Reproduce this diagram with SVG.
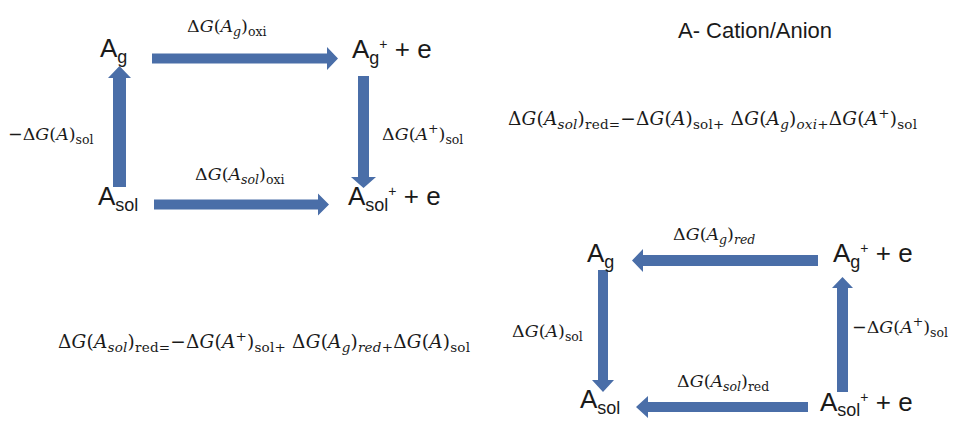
<svg xmlns="http://www.w3.org/2000/svg" width="956" height="421" viewBox="0 0 956 421">
<style>
.n{font-family:"Liberation Sans",Arial,sans-serif;font-size:26px;fill:#1a1a1a}
.ns{font-size:18px}
.np{font-size:14px}
.t{font-family:"Liberation Sans",Arial,sans-serif;font-size:22px;fill:#1a1a1a}
.m{font-family:"DejaVu Serif",serif;font-size:17.5px;fill:#1a1a1a}
.f{font-family:"DejaVu Serif",serif;font-size:18.5px;fill:#1a1a1a}
.i{font-style:italic}
.s{font-size:12.5px}
.fs{font-size:13.5px}
.a{fill:#4a6ea8}
</style>
<rect width="956" height="421" fill="#ffffff"/>
<g id="connectors">
<path class="a" d="M152,53.5 H327 V47 L338,58.5 L327,70 V63.5 H152 Z"/>
<path class="a" d="M358,76 H369 V177 H376 L363.5,188 L351,177 H358 Z"/>
<path class="a" d="M113,187 V78 H108 L119.5,66 L131,78 H126 V187 Z"/>
<path class="a" d="M154,199.5 H318 V193.5 L329,204.5 L318,215.5 V209.5 H154 Z"/>
<path class="a" d="M818,255 H643 V249 L632,260.5 L643,272 V266 H818 Z"/>
<path class="a" d="M598,270 H608 V380 H614 L603,392 L592,380 H598 Z"/>
<path class="a" d="M837,392 V288 H832 L842.5,277 L853,288 H848 V392 Z"/>
<path class="a" d="M808,402 H648 V396 L636,407 L648,418 V412 H808 Z"/>
</g>
<g id="node-ag-1"><text class="n" x="100" y="57">A<tspan class="ns" dy="6">g</tspan></text></g>
<g id="node-agp-1"><text class="n" x="352" y="58">A<tspan class="ns" dy="6">g</tspan><tspan class="np" dy="-15">+</tspan><tspan dy="9"> + e</tspan></text></g>
<g id="node-asol-1"><text class="n" x="98" y="205">A<tspan class="ns" dy="6">sol</tspan></text></g>
<g id="node-asolp-1"><text class="n" x="348" y="205">A<tspan class="ns" dy="6">sol</tspan><tspan class="np" dy="-15">+</tspan><tspan dy="9"> + e</tspan></text></g>
<g id="node-ag-2"><text class="n" x="587" y="262">A<tspan class="ns" dy="6">g</tspan></text></g>
<g id="node-agp-2"><text class="n" x="833" y="262">A<tspan class="ns" dy="6">g</tspan><tspan class="np" dy="-15">+</tspan><tspan dy="9"> + e</tspan></text></g>
<g id="node-asol-2"><text class="n" x="580" y="408">A<tspan class="ns" dy="6">sol</tspan></text></g>
<g id="node-asolp-2"><text class="n" x="820" y="411">A<tspan class="ns" dy="5">sol</tspan><tspan class="np" dy="-14">+</tspan><tspan dy="9"> + e</tspan></text></g>
<g id="labels">
<text class="m" x="187" y="32">Δ<tspan class="i">G</tspan>(<tspan class="i">A</tspan><tspan class="s i" dy="4">g</tspan><tspan dy="-4">)</tspan><tspan class="s" dy="4">oxi</tspan></text>
<text class="m" x="382" y="140">Δ<tspan class="i">G</tspan>(<tspan class="i">A</tspan><tspan class="s" dy="-7">+</tspan><tspan dy="7">)</tspan><tspan class="s" dy="4">sol</tspan></text>
<text class="m" x="8" y="140">−Δ<tspan class="i">G</tspan>(<tspan class="i">A</tspan>)<tspan class="s" dy="4">sol</tspan></text>
<text class="m" x="195" y="180">Δ<tspan class="i">G</tspan>(<tspan class="i">A</tspan><tspan class="s i" dy="4">sol</tspan><tspan dy="-4">)</tspan><tspan class="s" dy="4">oxi</tspan></text>
<text class="m" x="673" y="240">Δ<tspan class="i">G</tspan>(<tspan class="i">A</tspan><tspan class="s i" dy="4">g</tspan><tspan dy="-4">)</tspan><tspan class="s i" dy="4">red</tspan></text>
<text class="m" x="852" y="333">−Δ<tspan class="i">G</tspan>(<tspan class="i">A</tspan><tspan class="s" dy="-7">+</tspan><tspan dy="7">)</tspan><tspan class="s" dy="4">sol</tspan></text>
<text class="m" x="512" y="337">Δ<tspan class="i">G</tspan>(<tspan class="i">A</tspan>)<tspan class="s" dy="4">sol</tspan></text>
<text class="m" x="677" y="387">Δ<tspan class="i">G</tspan>(<tspan class="i">A</tspan><tspan class="s i" dy="4">sol</tspan><tspan dy="-4">)</tspan><tspan class="s" dy="4">red</tspan></text>
</g>
<g id="title"><text class="t" x="678" y="38">A- Cation/Anion</text></g>
<g id="formula-1"><text class="f" x="508" y="125" textLength="409" lengthAdjust="spacing">Δ<tspan class="i">G</tspan>(<tspan class="i">A</tspan><tspan class="fs i" dy="4">sol</tspan><tspan dy="-4">)</tspan><tspan class="fs" dy="4">red=</tspan><tspan dy="-4">−Δ</tspan><tspan class="i">G</tspan>(<tspan class="i">A</tspan>)<tspan class="fs" dy="4">sol+</tspan><tspan dy="-4"> Δ</tspan><tspan class="i">G</tspan>(<tspan class="i">A</tspan><tspan class="fs i" dy="4">g</tspan><tspan dy="-4">)</tspan><tspan class="fs i" dy="4">oxi+</tspan><tspan dy="-4">Δ</tspan><tspan class="i">G</tspan>(<tspan class="i">A</tspan><tspan class="fs" dy="-7">+</tspan><tspan dy="7">)</tspan><tspan class="fs" dy="4">sol</tspan></text></g>
<g id="formula-2"><text class="f" x="58" y="348" textLength="412" lengthAdjust="spacing">Δ<tspan class="i">G</tspan>(<tspan class="i">A</tspan><tspan class="fs i" dy="4">sol</tspan><tspan dy="-4">)</tspan><tspan class="fs" dy="4">red=</tspan><tspan dy="-4">−Δ</tspan><tspan class="i">G</tspan>(<tspan class="i">A</tspan><tspan class="fs" dy="-7">+</tspan><tspan dy="7">)</tspan><tspan class="fs" dy="4">sol+</tspan><tspan dy="-4"> Δ</tspan><tspan class="i">G</tspan>(<tspan class="i">A</tspan><tspan class="fs i" dy="4">g</tspan><tspan dy="-4">)</tspan><tspan class="fs i" dy="4">red+</tspan><tspan dy="-4">Δ</tspan><tspan class="i">G</tspan>(<tspan class="i">A</tspan>)<tspan class="fs" dy="4">sol</tspan></text></g>
</svg>
